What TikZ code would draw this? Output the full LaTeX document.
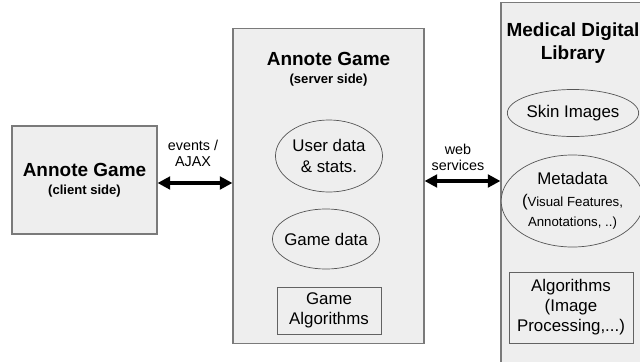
\documentclass[tikz,border=0pt]{standalone}
\usepackage{fontspec}
\setmainfont{Liberation Sans}
\usetikzlibrary{arrows.meta,shapes.geometric}
\definecolor{panelfill}{HTML}{EEEEEE}
\definecolor{panelline}{HTML}{7A7A7A}
\newcommand\hdfont{\bfseries\fontsize{13.5}{16.5}\selectfont}
\newcommand\smfont{\bfseries\fontsize{9.3}{11}\selectfont}
\newcommand\txfont{\fontsize{12}{14.3}\selectfont}
\newcommand\lbfont{\fontsize{10.2}{11.5}\selectfont}
\newcommand\ntfont{\fontsize{9.4}{12.5}\selectfont}
\tikzset{
  panel/.style={draw=panelline, fill=panelfill, line width=0.75pt, inner sep=0pt},
  store/.style={ellipse, draw=panelline!70!black, fill=panelfill, line width=0.5pt,
    align=center, inner sep=0pt, font=\txfont},
  part/.style={draw=panelline!80!black, fill=panelfill, line width=0.6pt,
    align=center, inner sep=0pt, font=\txfont},
  link/.style={line width=2.4pt, {Triangle[length=9pt,width=9pt]}-{Triangle[length=9pt,width=9pt]}},
  tag/.style={align=center, font=\lbfont, inner sep=0pt}
}
\begin{document}
\begin{tikzpicture}[x=0.025cm,y=-0.025cm]
	\useasboundingbox (0,0) rectangle (640,362);
	\clip (0,0) rectangle (640,362);
	% the three blocks
	\node[panel, minimum width=3.625cm, minimum height=2.7cm] (client) at (84.5,180) {};
	\node[panel, minimum width=4.775cm, minimum height=7.85cm] (server) at (328.5,186) {};
	\node[panel, minimum width=3.975cm, minimum height=9.425cm] (library) at (580.5,191.5) {};
	% titles
	\node[font=\hdfont, inner sep=0pt] (clienttitle) at (84.5,170) {Annote Game};
	\node[font=\smfont, inner sep=0pt] (clientsub) at (84.5,191) {(client side)};
	\node[font=\hdfont, inner sep=0pt] (servertitle) at (328.5,59) {Annote Game};
	\node[font=\smfont, inner sep=0pt] (serversub) at (328.5,80) {(server side)};
	\node[font=\hdfont, inner sep=0pt, align=center] (librarytitle) at (573,43) {Medical Digital\\Library};
	% server side parts
	\node[store, minimum width=2.675cm, minimum height=1.8cm] (userdata) at (329,156) {User data\\\& stats.};
	\node[store, inner xsep=-5pt, minimum width=2.675cm, minimum height=1.5cm] (gamedata) at (326,239) {Game data};
	\node[part, minimum width=2.6cm, minimum height=1.175cm] (gamealgo) at (329,310.5) {Game\\Algorithms};
	% library parts
	\node[store, minimum width=2.875cm, minimum height=1.175cm] (skin) at (573,113) {Skin Images};
	\node[store, minimum width=3.125cm, minimum height=2.3cm] (meta) at (572.5,201)
	  {Metadata\\[1pt]({\ntfont Visual Features,}\\[0pt]{\ntfont Annotations, ..)}};
	\node[part, minimum width=3.1cm, minimum height=1.775cm] (imgalgo) at (571,307.5) {Algorithms\\(Image\\Processing,...)};
	% connectors
	\draw[link] ([yshift=-0.075cm]client.east) -- ([yshift=-0.075cm]client.east -| server.west);
	\draw[link] ([yshift=0.125cm]server.east) -- ([yshift=0.125cm]server.east -| library.west);
	\node[tag] (ajax) at (193,153) {events /\\AJAX};
	\node[tag] (ws) at (458,157) {web\\services};
\end{tikzpicture}
\end{document}
